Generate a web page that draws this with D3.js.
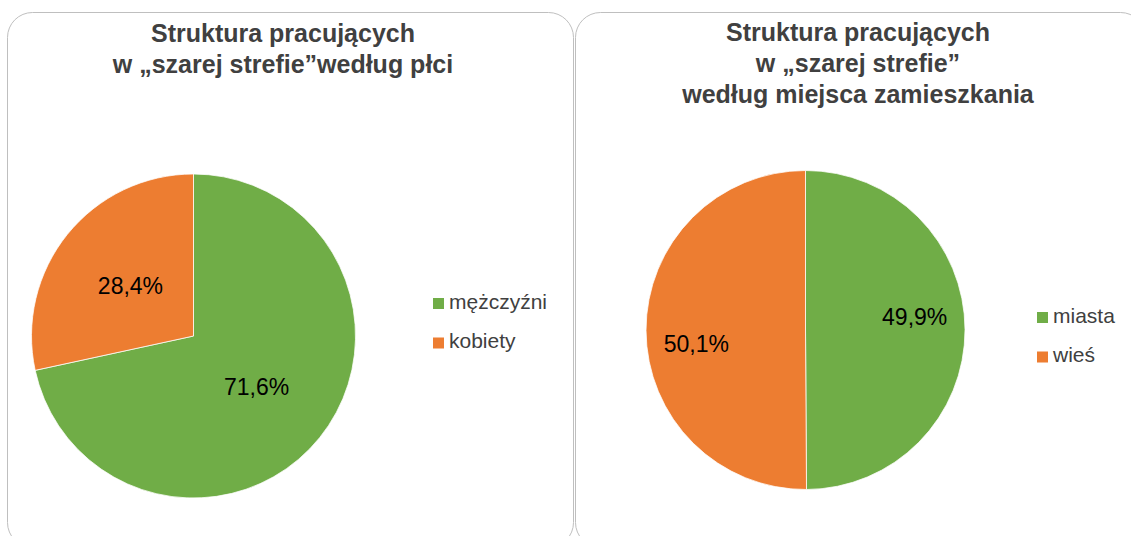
<!DOCTYPE html>
<html>
<head>
<meta charset="utf-8">
<script src="https://cdn.jsdelivr.net/npm/d3@7"></script>
<style>
  html, body { margin: 0; padding: 0; background: #fff; }
  svg { display: block; font-family: "Liberation Sans", Arial, sans-serif; }
</style>
</head>
<body>
<svg id="chart" width="1131" height="536"></svg>
<script>
// Data
const genderTitle = ["Struktura pracujących", "w „szarej strefie”według płci"];
const genderCategories = ["mężczyźni", "kobiety"];
const genderValues = [71.6, 28.4];

const placeTitle = ["Struktura pracujących", "w „szarej strefie”", "według miejsca zamieszkania"];
const placeCategories = ["miasta", "wieś"];
const placeValues = [49.9, 50.1];

const colors = ["#70ad47", "#ed7d31"];

// Layout of both panels
const panels = [
    {
        title: genderTitle, categories: genderCategories, values: genderValues,
        box: { x: 7.5, y: 12.5, w: 566, h: 535 },
        titleX: 283, titleY: 42, titleStep: 31,
        cx: 193.5, cy: 336, r: 162,
        labelR: 0.5, labelShift: 0,
        legendX: 433, legendY: 298
    },
    {
        title: placeTitle, categories: placeCategories, values: placeValues,
        box: { x: 575.5, y: 12.5, w: 570, h: 535 },
        titleX: 858, titleY: 41, titleStep: 31,
        cx: 805.5, cy: 330, r: 159.5,
        labelR: 0.69, labelShift: -7 * Math.PI / 180,
        legendX: 1037, legendY: 312
    }
];

const svg = d3.select("#chart");
const fmt = v => d3.format(".1f")(v).replace(".", ",") + "%";

panels.forEach(p => {
    const g = svg.append("g");

    // Frame
    g.append("rect")
        .attr("x", p.box.x).attr("y", p.box.y)
        .attr("width", p.box.w).attr("height", p.box.h)
        .attr("rx", 25).attr("ry", 25)
        .attr("fill", "#fff")
        .attr("stroke", "#bfbfbf")
        .attr("stroke-width", 1);

    // Title
    g.append("text")
        .attr("text-anchor", "middle")
        .attr("font-size", 25)
        .attr("font-weight", "bold")
        .attr("fill", "#404040")
        .selectAll("tspan")
        .data(p.title)
        .enter().append("tspan")
        .attr("x", p.titleX)
        .attr("y", (d, i) => p.titleY + i * p.titleStep)
        .text(d => d);

    const color = d3.scaleOrdinal().domain(p.categories).range(colors);
    const rows = p.categories.map((c, i) => ({ cat: c, value: p.values[i] }));

    const pie = d3.pie().sort(null).value(d => d.value);
    const arcs = pie(rows);
    const arc = d3.arc().innerRadius(0).outerRadius(p.r);

    const pieG = g.append("g").attr("transform", `translate(${p.cx},${p.cy})`);

    pieG.selectAll("path")
        .data(arcs)
        .enter().append("path")
        .attr("d", arc)
        .attr("fill", d => color(d.data.cat))
        .attr("stroke", "#fff")
        .attr("stroke-width", 0.75);

    // Data labels
    pieG.selectAll("text")
        .data(arcs)
        .enter().append("text")
        .attr("text-anchor", "middle")
        .attr("font-size", 23)
        .attr("fill", "#000")
        .attr("x", d => Math.sin((d.startAngle + d.endAngle) / 2 + p.labelShift) * p.r * p.labelR)
        .attr("y", d => -Math.cos((d.startAngle + d.endAngle) / 2 + p.labelShift) * p.r * p.labelR + 8.5)
        .text(d => fmt(d.data.value));

    // Legend
    const legend = g.append("g")
        .selectAll("g")
        .data(p.categories)
        .enter().append("g")
        .attr("transform", (d, i) => `translate(${p.legendX},${p.legendY + i * 39.5})`);

    legend.append("rect")
        .attr("width", 11).attr("height", 11)
        .attr("fill", d => color(d));

    legend.append("text")
        .attr("x", 16).attr("y", 10.5)
        .attr("font-size", 21)
        .attr("fill", "#404040")
        .text(d => d);
});
</script>
</body>
</html>
